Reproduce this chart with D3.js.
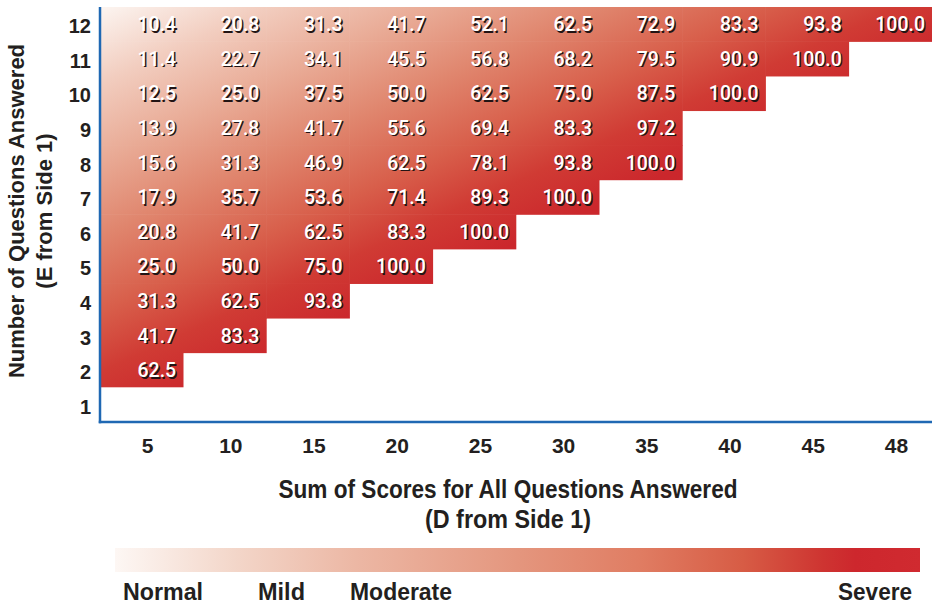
<!DOCTYPE html>
<html><head><meta charset="utf-8">
<script src="https://cdn.jsdelivr.net/npm/d3@7"></script>
<style>body{margin:0;background:#fff}svg{display:block}</style>
</head><body><svg id="c" width="932" height="605"></svg>
<script>
const sumScores = [5,10,15,20,25,30,35,40,45,48];
const questions = [12,11,10,9,8,7,6,5,4,3,2,1];
const row12 = [10.4,20.8,31.3,41.7,52.1,62.5,72.9,83.3,93.8,100.0];
const row11 = [11.4,22.7,34.1,45.5,56.8,68.2,79.5,90.9,100.0];
const row10 = [12.5,25.0,37.5,50.0,62.5,75.0,87.5,100.0];
const row9  = [13.9,27.8,41.7,55.6,69.4,83.3,97.2];
const row8  = [15.6,31.3,46.9,62.5,78.1,93.8,100.0];
const row7  = [17.9,35.7,53.6,71.4,89.3,100.0];
const row6  = [20.8,41.7,62.5,83.3,100.0];
const row5  = [25.0,50.0,75.0,100.0];
const row4  = [31.3,62.5,93.8];
const row3  = [41.7,83.3];
const row2  = [62.5];
const row1  = [];
const rowValues = [row12,row11,row10,row9,row8,row7,row6,row5,row4,row3,row2,row1];
const severityLabels = ["Normal","Mild","Moderate","Severe"];
const xTitle = ["Sum of Scores for All Questions Answered","(D from Side 1)"];
const yTitle = ["Number of Questions Answered","(E from Side 1)"];

const cells = [];
rowValues.forEach((vals,ri)=>vals.forEach((v,ci)=>cells.push({q:questions[ri],s:sumScores[ci],v})));

const svg = d3.select("#c");
const L=100,R=932,T=7,B=422;
const x = d3.scaleBand().domain(sumScores).range([L,R]);
const y = d3.scaleBand().domain(questions).range([T,B]);
const FONT = "'Liberation Sans', Arial, sans-serif";

const defs = svg.append("defs");
const g1 = defs.append("linearGradient").attr("id","cellGrad")
  .attr("x1",0).attr("y1",0).attr("x2",1).attr("y2",1);
[[0,"#fcf5f1"],[0.1,"#f2cdbf"],[0.2,"#e9ab96"],[0.3,"#e0866e"],[0.4,"#d85f4b"],[0.48,"#d03b34"],[0.56,"#cb272c"],[1,"#c81f28"]]
 .forEach(([o,c])=>g1.append("stop").attr("offset",o).attr("stop-color",c));
const clip = defs.append("clipPath").attr("id","cellClip");
clip.selectAll("rect").data(cells).join("rect")
  .attr("x",d=>x(d.s)-0.3).attr("y",d=>y(d.q)-0.3)
  .attr("width",x.bandwidth()+0.6).attr("height",y.bandwidth()+0.6);

const by1 = y(2)+y.bandwidth();
svg.append("rect").attr("x",L).attr("y",T).attr("width",R-L).attr("height",by1-T)
  .attr("fill","url(#cellGrad)").attr("clip-path","url(#cellClip)");

// cell labels
const lab = svg.append("g").attr("font-family","Roboto, sans-serif").attr("font-weight",500)
  .attr("font-size",19.5).attr("text-anchor","end");
lab.selectAll("text.sh").data(cells).join("text").attr("class","sh")
  .attr("x",d=>x(d.s)+x.bandwidth()-7+1.4).attr("y",d=>y(d.q)+y.bandwidth()/2+1.4)
  .attr("dy","0.36em").attr("fill","#221414").text(d=>d.v.toFixed(1));
lab.selectAll("text.fg").data(cells).join("text").attr("class","fg")
  .attr("x",d=>x(d.s)+x.bandwidth()-7).attr("y",d=>y(d.q)+y.bandwidth()/2)
  .attr("dy","0.36em").attr("fill","#ffffff").text(d=>d.v.toFixed(1));

// frame lines
svg.append("line").attr("x1",L).attr("x2",L).attr("y1",T).attr("y2",B+1.25)
  .attr("stroke","#1f68b3").attr("stroke-width",2.5);
svg.append("line").attr("x1",L-1.25).attr("x2",R).attr("y1",B).attr("y2",B)
  .attr("stroke","#1f68b3").attr("stroke-width",2.5);

// y axis
const ya = svg.append("g").attr("transform",`translate(${L-9},0)`).call(d3.axisLeft(y).tickSize(0).tickPadding(0));
ya.select(".domain").remove();
ya.selectAll("text").attr("font-family",FONT).attr("font-weight","bold")
  .attr("font-size",20).attr("fill","#231f20").attr("dy","0.45em");

// x axis
const xa = svg.append("g").attr("transform",`translate(6,${B+16})`).call(d3.axisBottom(x).tickSize(0).tickPadding(0));
xa.select(".domain").remove();
xa.selectAll("text").attr("font-family",FONT).attr("font-weight","bold")
  .attr("font-size",21).attr("fill","#231f20");

// axis titles
const xTitleLen = [459,166];
svg.append("g").selectAll("text").data(xTitle).join("text")
  .attr("x",508).attr("y",(d,i)=>498+i*30).attr("text-anchor","middle")
  .attr("font-family",FONT).attr("font-weight","bold").attr("font-size",25.5).attr("fill","#231f20")
  .attr("textLength",(d,i)=>xTitleLen[i]).attr("lengthAdjust","spacingAndGlyphs").text(d=>d);

const yt = svg.append("text").attr("text-anchor","middle").attr("transform","translate(0,211) rotate(-90)")
  .attr("font-family",FONT).attr("font-weight","bold")
  .attr("font-size",22).attr("fill","#231f20");
yTitle.forEach((t,i)=>yt.append("tspan").attr("x",0).attr("y",24+i*28).text(t));

// legend gradient bar
const g2 = defs.append("linearGradient").attr("id","legGrad").attr("x1",0).attr("y1",0).attr("x2",1).attr("y2",0);
[[0,"#fdf7f4"],[0.15,"#f3d6c9"],[0.3,"#ecb7a4"],[0.5,"#e4967e"],[0.65,"#e07d63"],[0.78,"#d75c45"],[0.88,"#ce3431"],[0.92,"#cd272d"],[1,"#d02a30"]]
 .forEach(([o,c])=>g2.append("stop").attr("offset",o).attr("stop-color",c));
svg.append("rect").attr("x",115).attr("y",548).attr("width",805).attr("height",24).attr("fill","url(#legGrad)");

const legPos = {"Normal":[123,"start",80],"Mild":[258,"start",47],"Moderate":[350,"start",102],"Severe":[912,"end",74]};
svg.append("g").selectAll("text").data(severityLabels).join("text")
  .attr("x",d=>legPos[d][1]==="end"?legPos[d][0]-legPos[d][2]:legPos[d][0]).attr("y",600)
  .attr("font-family",FONT).attr("font-weight","bold")
  .attr("font-size",23.5).attr("fill","#231f20")
  .attr("textLength",d=>legPos[d][2]).attr("lengthAdjust","spacingAndGlyphs").text(d=>d);
</script></body></html>
